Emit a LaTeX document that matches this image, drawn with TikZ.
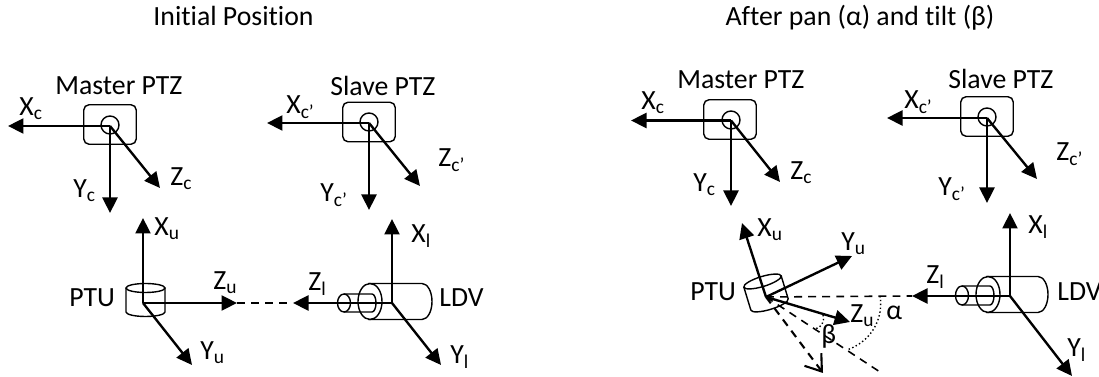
\documentclass[tikz,border=0pt]{standalone}
\usepackage{fontspec}
\setmainfont[Ligatures=NoCommon]{Carlito}
\usetikzlibrary{arrows.meta,calc}
\definecolor{inkblack}{rgb}{0.0, 0.0, 0.0}
\newcommand{\sub}[2]{#1\textsubscript{#2}}

\begin{document}
\begin{tikzpicture}[x=0.02cm,y=-0.02cm,
		axis/.style={line width=1.35pt, inkblack, -{Triangle[length=0.31cm,width=0.3cm]}},
		body/.style={line width=0.8pt, inkblack},
		ptzbox/.style={draw, body, rounded corners=3pt, minimum width=1.05cm, minimum height=0.79cm, inner sep=0pt},
		lens/.style={draw, body, circle, minimum size=0.36cm, inner sep=0pt},
		lbl/.style={anchor=base west, inner sep=0pt, font=\fontsize{15.8}{18}\selectfont},
		ttl/.style={anchor=base, inner sep=0pt, font=\fontsize{15.8}{18}\selectfont},
		dashline/.style={line width=0.9pt, dash pattern=on 4.5pt off 3.5pt},
		dotline/.style={line width=0.8pt, dash pattern=on 0.8pt off 1.4pt}]
	\useasboundingbox (0,0) rectangle (1099,377);

	\node[ttl] (title1) at (233.5,26) {Initial Position};
	\node[ttl] (title2) at (860,26) {After pan (α) and tilt (β)};

	% left picture
	\node[ptzbox] (box1) at (110,124.5) {};
	\node[lens] (lens1) at (110,125) {};
	\node[lbl] (name1) at (55,95) {Master PTZ};
	\coordinate (c1) at (110,126);
	\coordinate (c1x) at (8,126);
	\coordinate (c1y) at (110,213);
	\coordinate (c1z) at (160,188);
	\draw[axis] (c1) -- (c1x);
	\draw[axis] (c1) -- (c1y);
	\draw[axis] (c1) -- (c1z);
	\node[lbl] (lc1x) at (19,116) {\sub{X}{c}};
	\node[lbl] (lc1y) at (73,198) {\sub{Y}{c}};
	\node[lbl] (lc1z) at (170,186) {\sub{Z}{c}};

	\node[ptzbox] (box2) at (369,122) {};
	\node[lens] (lens2) at (369,122) {};
	\node[lbl] (name2) at (330,96) {Slave PTZ};
	\coordinate (c2) at (369,123);
	\coordinate (c2x) at (267,123);
	\coordinate (c2y) at (369,210);
	\coordinate (c2z) at (420,186);
	\draw[axis] (c2) -- (c2x);
	\draw[axis] (c2) -- (c2y);
	\draw[axis] (c2) -- (c2z);
	\node[lbl] (lc2x) at (286,114) {\sub{X}{c’}};
	\node[lbl] (lc2y) at (320,202) {\sub{Y}{c’}};
	\node[lbl] (lc2z) at (438,167) {\sub{Z}{c’}};

	\draw[body] (145.5,288) ellipse [x radius=19.5, y radius=4.5];
	\draw[body] (126,288) -- (126,312) arc[start angle=180, end angle=0, x radius=19.5, y radius=4.5] -- (165,288);
	\node[lbl] (ptu1) at (69,307) {PTU};
	\coordinate (u1) at (143,303);
	\coordinate (u1x) at (143,218);
	\coordinate (u1y) at (192,365);
	\coordinate (u1z) at (237,303);
	\coordinate (meet1) at (293,303);
	\draw[dashline] (u1z) -- (meet1);
	\draw[axis] (u1) -- (u1x);
	\draw[axis] (u1) -- (u1y);
	\draw[axis] (u1) -- (u1z);
	\node[lbl] (lu1x) at (154,236) {\sub{X}{u}};
	\node[lbl] (lu1y) at (200,360) {\sub{Y}{u}};
	\node[lbl] (lu1z) at (213,290) {\sub{Z}{u}};

	\draw[body] (370,301.5) ellipse [x radius=12, y radius=18];
	\draw[body] (368,283.5) -- (422,283.5) arc[start angle=-90, end angle=90, x radius=10, y radius=18] -- (368,319.5);
	\draw[body] (344,303) ellipse [x radius=6.5, y radius=9];
	\draw[body] (344,294) -- (372,294) arc[start angle=-90, end angle=90, x radius=4, y radius=9] -- (344,312);
	\node[lbl] (ldv1) at (439,307) {LDV};
	\coordinate (l1) at (392,303);
	\coordinate (l1x) at (392,219);
	\coordinate (l1y) at (441,365);
	\draw[axis] (l1) -- (l1x);
	\draw[axis] (l1) -- (l1y);
	\draw[axis] (l1) -- (meet1);
	\node[lbl] (ll1x) at (411,243) {\sub{X}{l}};
	\node[lbl] (ll1y) at (450,364) {\sub{Y}{l}};
	\node[lbl] (ll1z) at (308,291) {\sub{Z}{l}};

	% right picture
	\node[ptzbox] (box3) at (730,119.5) {};
	\node[lens] (lens3) at (731,120) {};
	\node[lbl] (name3) at (677,89) {Master PTZ};
	\coordinate (c3) at (731,120.5);
	\coordinate (c3x) at (631,120.5);
	\coordinate (c3y) at (731,206);
	\coordinate (c3z) at (780,182);
	\draw[axis] (c3) -- (c3x);
	\draw[axis] (c3) -- (c3y);
	\draw[axis] (c3) -- (c3z);
	\node[lbl] (lc3x) at (641,110) {\sub{X}{c}};
	\node[lbl] (lc3y) at (693,192) {\sub{Y}{c}};
	\node[lbl] (lc3z) at (790,180) {\sub{Z}{c}};

	\node[ptzbox] (box4) at (987,116.5) {};
	\node[lens] (lens4) at (987,117) {};
	\node[lbl] (name4) at (948,89) {Slave PTZ};
	\coordinate (c4) at (987,118);
	\coordinate (c4x) at (887,118);
	\coordinate (c4y) at (987,203);
	\coordinate (c4z) at (1037,179);
	\draw[axis] (c4) -- (c4x);
	\draw[axis] (c4) -- (c4y);
	\draw[axis] (c4) -- (c4z);
	\node[lbl] (lc4x) at (904,109) {\sub{X}{c’}};
	\node[lbl] (lc4y) at (938,196) {\sub{Y}{c’}};
	\node[lbl] (lc4z) at (1056,161) {\sub{Z}{c’}};

	\begin{scope}[shift={(762.5,281.5)},rotate=17]
		\draw[body] (0,0) ellipse [x radius=19.5, y radius=5];
		\draw[body] (-19.5,0) -- (-19.5,24) arc[start angle=180, end angle=0, x radius=19.5, y radius=5] -- (19.5,0);
	\end{scope}
	\node[lbl] (ptu2) at (690,301) {PTU};
	\coordinate (u2) at (766,297);
	\coordinate (u2x) at (742,223);
	\coordinate (u2y) at (852,256);
	\coordinate (u2z) at (850,322);
	\coordinate (meet2) at (912,296);
	\coordinate (pan2) at (880,372);
	\coordinate (tilt2) at (823,373);
	\draw[dashline] (u2) -- (meet2);
	\draw[dashline] (u2) -- (pan2);
	\draw[dashline, line width=1.2pt, -{Straight Barb[length=0.3cm,width=0.42cm]}] (u2) -- (tilt2);
	\coordinate (a1) at (880,296);
	\coordinate (a2) at (847,350);
	\coordinate (b1) at (823,315);
	\coordinate (b2) at (815,329);
	\draw[dotline] (a1) .. controls (884,320) and (870,342) .. (a2);
	\draw[dotline] (b1) .. controls (825,322) and (821,328) .. (b2);
	\draw[axis] (u2) -- (u2x);
	\draw[axis] (u2) -- (u2y);
	\draw[axis] (u2) -- (u2z);
	\node[lbl] (lu2x) at (757,237) {\sub{X}{u}};
	\node[lbl] (lu2y) at (841,251) {\sub{Y}{u}};
	\node[lbl] (lu2z) at (850,323) {\sub{Z}{u}};
	\node[lbl] (beta) at (821,344) {β};
	\node[lbl] (alpha) at (886,320) {α};

	\draw[body] (988,294.5) ellipse [x radius=12, y radius=18];
	\draw[body] (986,276.5) -- (1038,276.5) arc[start angle=-90, end angle=90, x radius=10, y radius=18] -- (986,312.5);
	\draw[body] (962,295.5) ellipse [x radius=6.5, y radius=9.5];
	\draw[body] (962,286) -- (990,286) arc[start angle=-90, end angle=90, x radius=4, y radius=9.5] -- (962,305);
	\node[lbl] (ldv2) at (1057,301) {LDV};
	\coordinate (l2) at (1010,296);
	\coordinate (l2x) at (1010,213);
	\coordinate (l2y) at (1072,376);
	\draw[axis] (l2) -- (l2x);
	\draw[axis] (l2) -- (l2y);
	\draw[axis] (l2) -- (meet2);
	\node[lbl] (ll2x) at (1028,234) {\sub{X}{l}};
	\node[lbl] (ll2y) at (1067,357) {\sub{Y}{l}};
	\node[lbl] (ll2z) at (926,284) {\sub{Z}{l}};
\end{tikzpicture}
\end{document}
